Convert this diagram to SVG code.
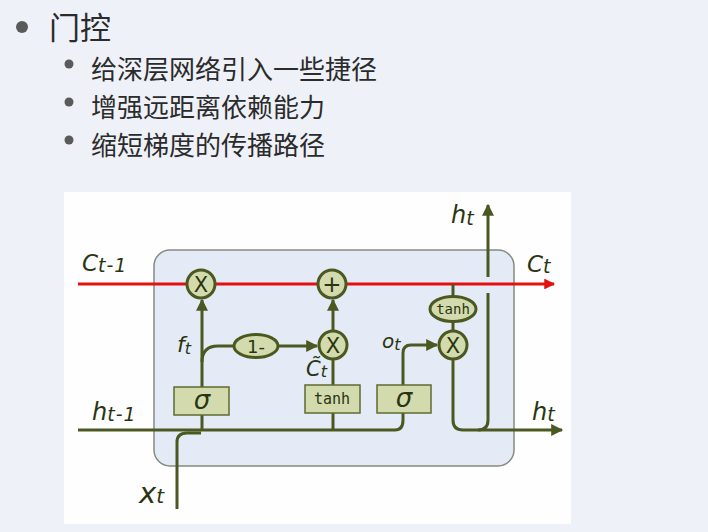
<svg xmlns="http://www.w3.org/2000/svg" width="708" height="532" viewBox="0 0 708 532">
<defs>
<style>
.cjk{font-family:"Noto Sans CJK SC","Noto Sans",sans-serif;fill:#2b2b2b}
.ln{fill:none;stroke:#4b5820;stroke-width:3}
.red{fill:none;stroke:#e41010;stroke-width:3}
.op{fill:#d3dbae;stroke:#4b5820;stroke-width:3}
.box{fill:#d3dbae;stroke:#5d6b30;stroke-width:1.5}
.m{font-family:"DejaVu Sans","Open Sans",sans-serif;font-style:italic;fill:#2a3510}
.opt{font-family:"DejaVu Sans","Liberation Sans",sans-serif;fill:#2a3510;text-anchor:middle}
.mono{font-family:"DejaVu Sans Mono","Liberation Mono",monospace;fill:#2a3510;text-anchor:middle}
</style>
<marker id="ah" viewBox="0 0 10 10" refX="9" refY="5" markerWidth="5" markerHeight="4" orient="auto" markerUnits="strokeWidth">
<path d="M0,0 L10,5 L0,10 z" fill="#4b5820"/>
</marker>
<marker id="ahr" viewBox="0 0 10 10" refX="9" refY="5" markerWidth="6" markerHeight="3.6" orient="auto" markerUnits="strokeWidth">
<path d="M0,0 L10,5 L0,10 z" fill="#e41010"/>
</marker>
</defs>
<rect width="708" height="532" fill="#eef1f8"/>
<g id="bullets">
<circle cx="22" cy="27" r="6" fill="#5a5a5a"/>
<text class="cjk" x="49" y="39" font-size="31">门控</text>
<circle cx="69" cy="64" r="4.5" fill="#5a5a5a"/>
<text class="cjk" x="91" y="79" font-size="26">给深层网络引入一些捷径</text>
<circle cx="69" cy="102" r="4.5" fill="#5a5a5a"/>
<text class="cjk" x="91" y="117" font-size="26">增强远距离依赖能力</text>
<circle cx="69" cy="140" r="4.5" fill="#5a5a5a"/>
<text class="cjk" x="91" y="155" font-size="26">缩短梯度的传播路径</text>
</g>
<rect x="64" y="192" width="507" height="332" fill="#fefefe"/>
<g id="cell">
<rect x="154" y="250" width="360" height="216" rx="16" fill="#e4eaf6" stroke="#868b80" stroke-width="1.5"/>
</g>
<g id="connectors">
<path class="red" d="M78,284 L187,284 M215,284 L318,284 M346,284 L554,284" marker-end="url(#ahr)"/>
<path class="ln" d="M78,430 L395,430 Q403,430 403,420 L403,413"/>
<path class="ln" d="M177,509 L177,442 Q177,433 187,433 L201,433"/>
<path class="ln" d="M202,430 L202,415"/>
<path class="ln" d="M202,387 L202,300" marker-end="url(#ah)"/>
<path class="ln" d="M202,362 Q202,346 218,346 L234,346"/>
<path class="ln" d="M278,346 L317,346" marker-end="url(#ah)"/>
<path class="ln" d="M333,430 L333,413"/>
<path class="ln" d="M333,385 L333,359"/>
<path class="ln" d="M333,331 L333,300" marker-end="url(#ah)"/>
<path class="ln" d="M403,385 L403,353 Q403,345 411,345 L437,345" marker-end="url(#ah)"/>
<path class="ln" d="M453,284 L453,296"/>
<path class="ln" d="M453,321 L453,331"/>
<path class="ln" d="M453,359 L453,420 Q453,430 463,430 L562,430" marker-end="url(#ah)"/>
<path class="ln" d="M478,430 Q488,430 488,420 L488,293"/>
<path class="ln" d="M488,277 L488,205" marker-end="url(#ah)"/>
</g>
<g id="mul_f">
<circle class="op" cx="201" cy="284" r="14"/>
<text class="opt" x="201" y="292" font-size="21">X</text>
</g>
<g id="add_c">
<circle class="op" cx="332" cy="284" r="14"/>
<text class="opt" x="332" y="292" font-size="23">+</text>
</g>
<g id="one_minus">
<ellipse class="op" cx="256" cy="346" rx="22" ry="11.5"/>
<text class="opt" x="256" y="353" font-size="18">1-</text>
</g>
<g id="mul_i">
<circle class="op" cx="333" cy="345" r="14"/>
<text class="opt" x="333" y="353" font-size="21">X</text>
</g>
<g id="tanh_c">
<ellipse class="op" cx="453" cy="309" rx="23" ry="12.5"/>
<text class="mono" x="453" y="314" font-size="14">tanh</text>
</g>
<g id="mul_o">
<circle class="op" cx="453" cy="345" r="14"/>
<text class="opt" x="453" y="353" font-size="21">X</text>
</g>
<g id="sigma_f">
<rect class="box" x="174" y="387" width="55" height="28"/>
<text class="m" x="202" y="409" font-size="26" text-anchor="middle">σ</text>
</g>
<g id="tanh_box">
<rect class="box" x="305" y="385" width="55" height="28"/>
<text class="mono" x="332" y="404" font-size="15">tanh</text>
</g>
<g id="sigma_o">
<rect class="box" x="377" y="385" width="54" height="28"/>
<text class="m" x="404" y="407" font-size="26" text-anchor="middle">σ</text>
</g>
<g id="labels">
<text class="m" x="82" y="271" font-size="23">C<tspan font-size="19" dy="1" letter-spacing="1">t-1</tspan></text>
<text class="m" x="527" y="272" font-size="23">C<tspan font-size="19" dy="1">t</tspan></text>
<text class="m" x="451" y="223" font-size="24">h<tspan font-size="19" dy="2">t</tspan></text>
<text class="m" x="177" y="352" font-size="22">f<tspan font-size="16" dy="2">t</tspan></text>
<text class="m" x="382" y="348" font-size="20">o<tspan font-size="16" dy="2">t</tspan></text>
<text class="m" x="306" y="376" font-size="21">C̃<tspan font-size="16" dy="1">t</tspan></text>
<text class="m" x="92" y="420" font-size="24">h<tspan font-size="19" dy="1" letter-spacing="1">t-1</tspan></text>
<text class="m" x="532" y="420" font-size="24">h<tspan font-size="19" dy="1">t</tspan></text>
<text class="m" x="139" y="503" font-size="29">x<tspan font-size="20">t</tspan></text>
</g>
</svg>
